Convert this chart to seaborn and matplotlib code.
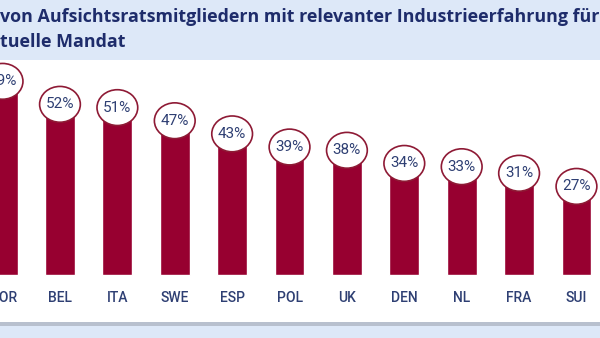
import matplotlib
matplotlib.use("Agg")
import matplotlib.pyplot as plt
import matplotlib.transforms as mtransforms
from matplotlib.patches import Ellipse, Rectangle
import seaborn as sns
import pandas as pd

countries = ["NOR", "BEL", "ITA", "SWE", "ESP", "POL", "UK", "DEN", "NL", "FRA", "SUI"]
values = [59, 52, 51, 47, 43, 39, 38, 34, 33, 31, 27]
title_lines = ["von Aufsichtsratsmitgliedern mit relevanter Industrieerfahrung für",
               "tuelle Mandat"]

BAR = "#970030"
EDGE = "#8e1a35"
NAVY = "#1e2c6b"
LABEL = "#2e3f73"
BAND = "#dde8f8"

sns.set_theme(style="white")
plt.rcParams["font.family"] = ["Open Sans", "DejaVu Sans"]

W, H = 600, 338
fig = plt.figure(figsize=(W / 100, H / 100), dpi=100)
fig.patch.set_facecolor(BAND)

# white panel + bottom shadow
fig.patches.append(Rectangle((0, (H - 326) / H), 1, 4 / H, transform=fig.transFigure,
                             facecolor="#b8c0ce", edgecolor="none", zorder=0))
ax = fig.add_axes([0, (H - 322) / H, 1, (322 - 60) / H])
ax.set_facecolor("white")

df = pd.DataFrame({"country": countries, "value": values})
sns.barplot(data=df, x="country", y="value", order=countries, color=BAR,
            saturation=1, width=0.52, ax=ax, zorder=2)

ax.set_xlim(-0.045, 10.41)
ax.set_ylim(-14.3, 65.5)
for s in ax.spines.values():
    s.set_visible(False)
ax.set_xticks([])
ax.set_yticks([])
ax.set_xlabel("")
ax.set_ylabel("")

# value bubbles
for i, v in enumerate(values):
    ax.add_patch(Ellipse((i, v), width=0.71, height=10.9, facecolor="white",
                         edgecolor=EDGE, linewidth=1.2, zorder=3))
    ax.text(i, v, f"{v}%", ha="center", va="center", fontsize=11,
            color=LABEL, zorder=4, family=["Roboto", "DejaVu Sans"])

# category labels
trans = mtransforms.blended_transform_factory(ax.transData, fig.transFigure)
for i, c in enumerate(countries):
    ax.text(i, (H - 298) / H, c, transform=trans, ha="center", va="center",
            fontsize=10, fontweight="medium", color=LABEL,
            family=["Roboto", "DejaVu Sans"])

# title in top band
fig.text(0.0, (H - 17) / H, title_lines[0], ha="left", va="center", fontsize=12.9,
         fontweight="bold", color=NAVY)
fig.text(0.0, (H - 42) / H, title_lines[1], ha="left", va="center", fontsize=12.9,
         fontweight="bold", color=NAVY)

fig.savefig("out.png", dpi=100, facecolor=fig.get_facecolor())
